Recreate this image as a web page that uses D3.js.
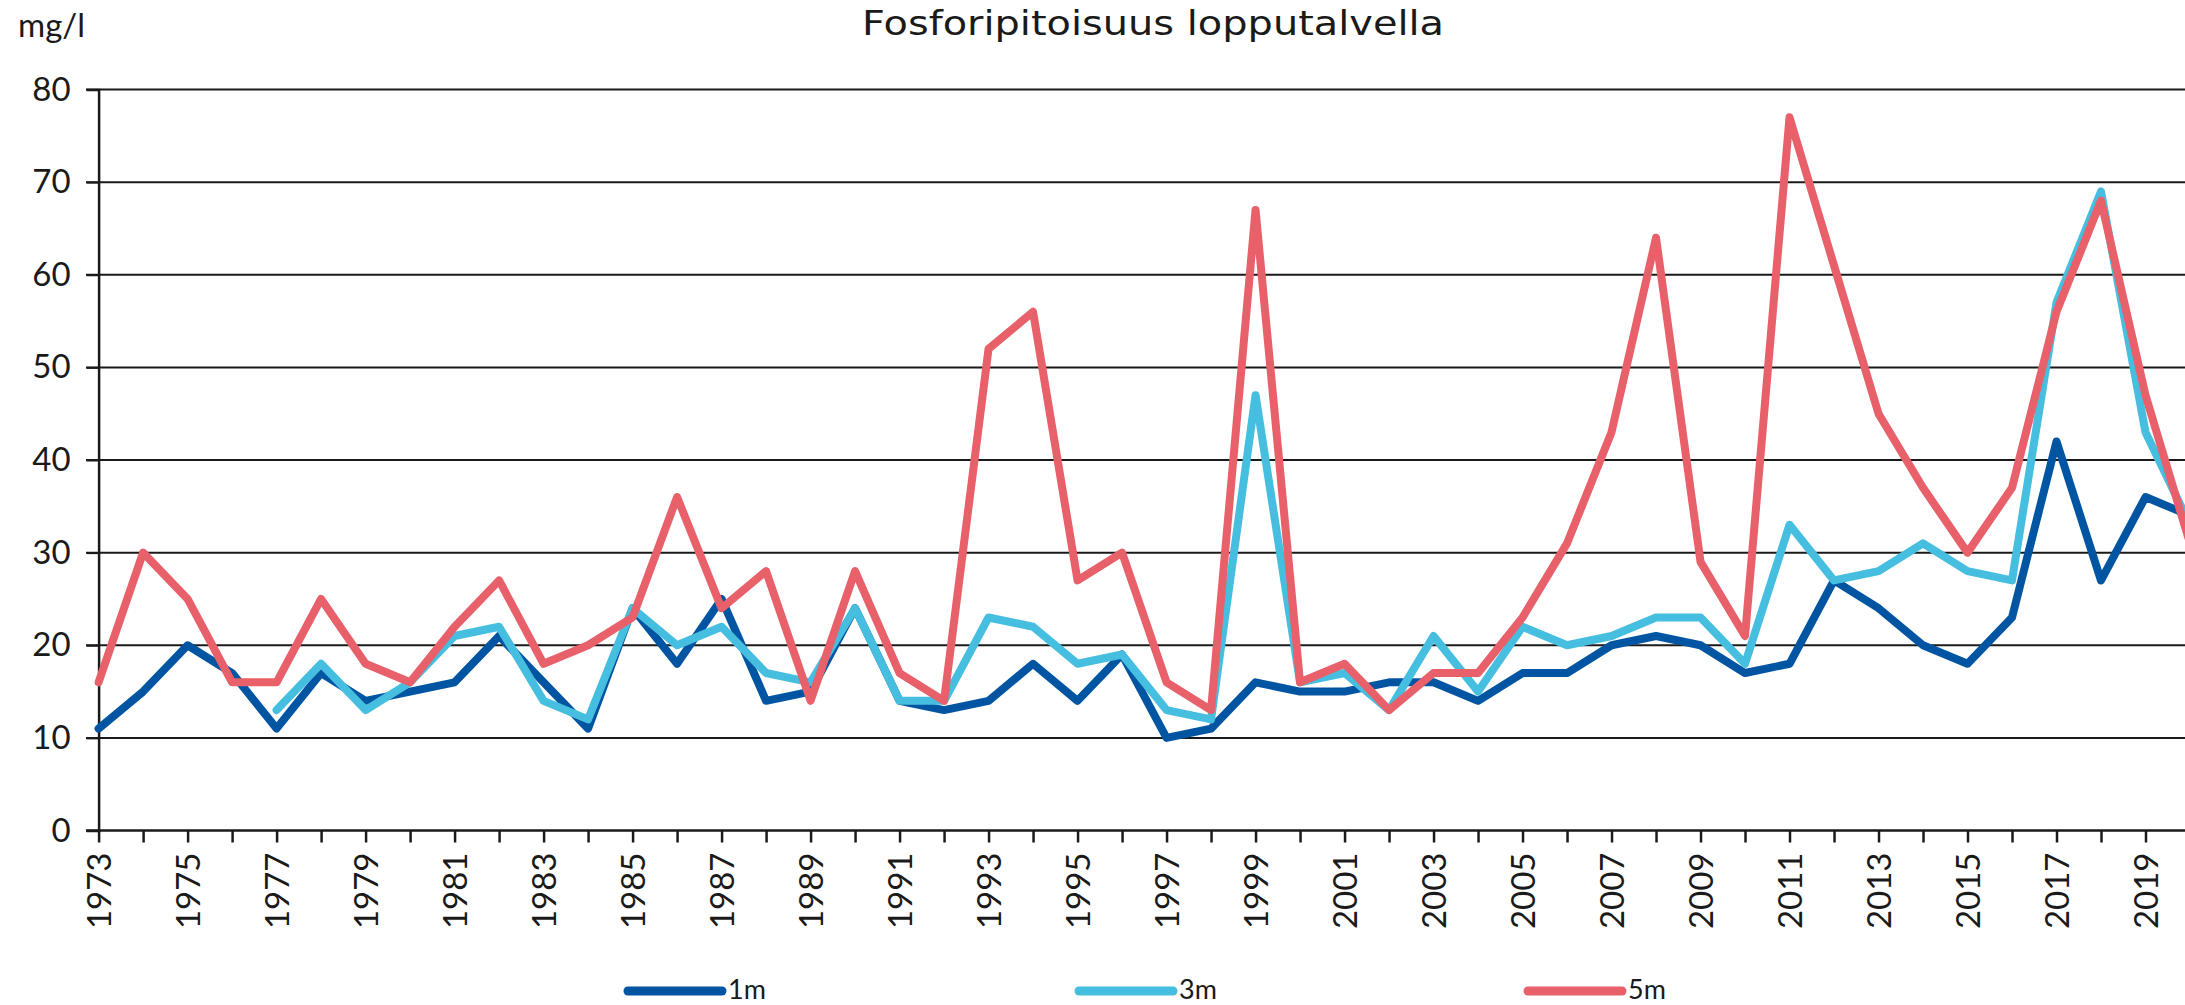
<!DOCTYPE html>
<html>
<head>
<meta charset="utf-8">
<script src="https://cdn.jsdelivr.net/npm/d3@7"></script>
<style>
  html, body { margin: 0; padding: 0; background: #fff; overflow: hidden; }
  svg { display: block; }
  text { fill: #1a1a1a; }
</style>
</head>
<body>
<script>
const years = d3.range(1973, 2021);
const seriesNames = ["1m", "3m", "5m"];
const values1m = [11,15,20,17,11,17,14,15,16,21,16,11,24,18,25,14,15,24,14,13,14,18,14,19,10,11,16,15,15,16,16,14,17,17,20,21,20,17,18,27,24,20,18,23,42,27,36,34];
const values3m = [null,null,null,null,13,18,13,16,21,22,14,12,24,20,22,17,16,24,14,14,23,22,18,19,13,12,47,16,17,13,21,15,22,20,21,23,23,18,33,27,28,31,28,27,57,69,43,33];
const values5m = [16,30,25,16,16,25,18,16,22,27,18,20,23,36,24,28,14,28,17,14,52,56,27,30,16,13,67,16,18,13,17,17,23,31,43,64,29,21,77,61,45,37,30,37,56,68,47,31];
const yTicks = [0,10,20,30,40,50,60,70,80];
const xLabelYears = years.filter(y => (y - 1973) % 2 === 0);
const title = "Fosforipitoisuus lopputalvella";
const unitLabel = "mg/l";
const colors = ["#0055a2", "#45bee0", "#e8606a"];

const W = 2185, H = 1005;
const FONT = "Lato, 'DejaVu Sans', sans-serif";
const svg = d3.select("body").append("svg").attr("width", W).attr("height", H);

const x = d3.scaleLinear().domain([1973, 2020]).range([98.6, 2190]);
const y = d3.scaleLinear().domain([0, 80]).range([830.5, 89.5]);

// gridlines
svg.append("g").selectAll("line").data(yTicks.filter(t => t > 0)).join("line")
  .attr("x1", 86).attr("x2", W)
  .attr("y1", d => y(d)).attr("y2", d => y(d))
  .attr("stroke", "#1a1a1a").attr("stroke-width", 2);

// y axis
const yAxis = svg.append("g").attr("transform", "translate(98.6,0)")
  .call(d3.axisLeft(y).tickValues(yTicks).tickSize(12).tickPadding(16));
yAxis.select(".domain").attr("stroke", "#1a1a1a").attr("stroke-width", 2.5);
yAxis.selectAll(".tick line").attr("stroke", "#1a1a1a").attr("stroke-width", 2);
yAxis.selectAll(".tick text").attr("font-size", 33).attr("font-family", FONT).attr("fill", "#1a1a1a");

// x axis
const xAxis = svg.append("g").attr("transform", `translate(0,${y(0)})`)
  .call(d3.axisBottom(x).tickValues(years).tickSize(12).tickFormat(d => xLabelYears.includes(d) ? String(d) : ""));
xAxis.select(".domain").attr("stroke", "#1a1a1a").attr("stroke-width", 2.5).attr("d", `M86,0H${W}`);
xAxis.selectAll(".tick line").attr("stroke", "#1a1a1a").attr("stroke-width", 2.5);
xAxis.selectAll(".tick text")
  .attr("font-size", 33).attr("font-family", FONT).attr("fill", "#1a1a1a")
  .attr("transform", "rotate(-90)")
  .attr("text-anchor", "end")
  .attr("x", -22).attr("y", 0).attr("dy", "0.35em");

// lines
const allSeries = [values1m, values3m, values5m];
const line = d3.line()
  .defined(d => d.v !== null)
  .x(d => x(d.year)).y(d => y(d.v));
allSeries.forEach((vals, i) => {
  svg.append("path")
    .datum(years.map((yr, j) => ({ year: yr, v: vals[j] })))
    .attr("fill", "none")
    .attr("stroke", colors[i])
    .attr("stroke-width", 8)
    .attr("stroke-linejoin", "round")
    .attr("stroke-linecap", "round")
    .attr("d", line);
});

// title & unit
svg.append("text").attr("x", 1153).attr("y", 35).attr("text-anchor", "middle")
  .attr("font-size", 33).attr("font-family", "'DejaVu Sans', sans-serif")
  .attr("textLength", 582).attr("lengthAdjust", "spacingAndGlyphs").text(title);
svg.append("text").attr("x", 18).attr("y", 37).attr("font-size", 33).attr("font-family", FONT).text(unitLabel);

// legend
const legendX = [628, 1079, 1528];
const lg = svg.append("g");
seriesNames.forEach((name, i) => {
  lg.append("line").attr("x1", legendX[i]).attr("x2", legendX[i] + 94)
    .attr("y1", 991).attr("y2", 991)
    .attr("stroke", colors[i]).attr("stroke-width", 9).attr("stroke-linecap", "round");
  lg.append("text").attr("x", legendX[i] + 100).attr("y", 999)
    .attr("font-size", 27).attr("font-family", FONT).text(name);
});
</script>
</body>
</html>
